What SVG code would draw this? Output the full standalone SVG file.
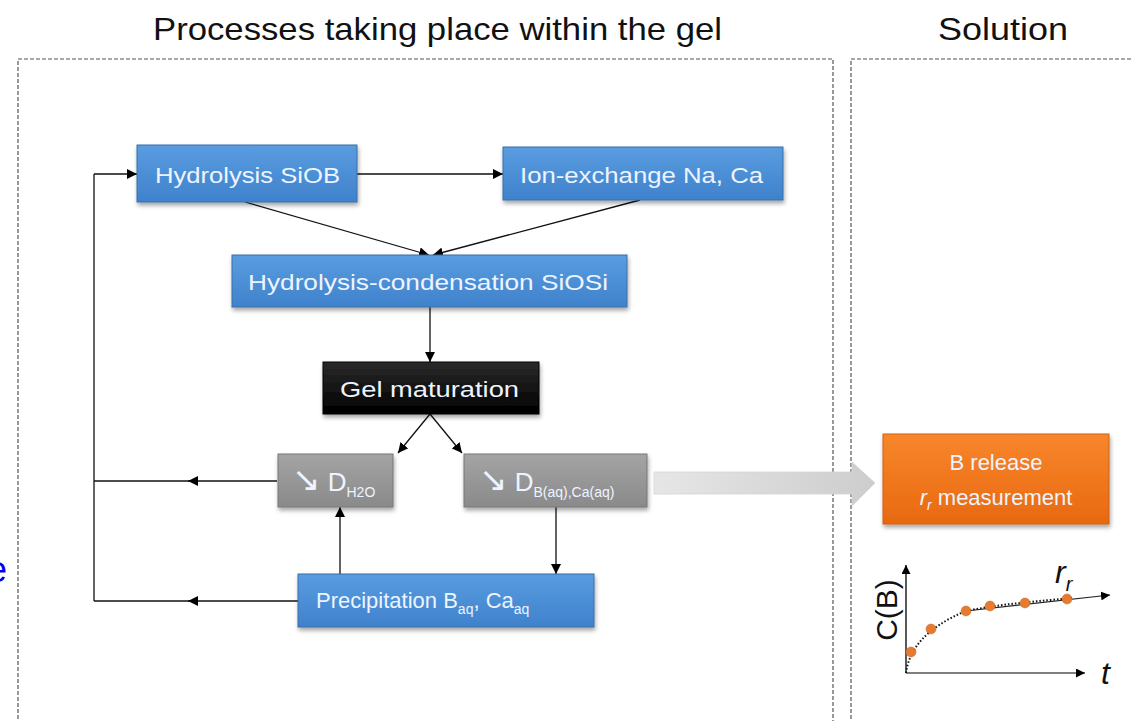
<svg xmlns="http://www.w3.org/2000/svg" width="1133" height="721" viewBox="0 0 1133 721">
<defs>
<style>
.title{font-family:"Liberation Sans",Arial,sans-serif;font-size:32px;fill:#111;}
.lbl{font-family:"Liberation Sans",Arial,sans-serif;font-size:22px;fill:#eef4ff;}
.sub{font-size:14px;}
.arr{font-family:"DejaVu Sans",sans-serif;font-size:34px;}
.big{font-size:26px;}
.dash{fill:none;stroke:#555;stroke-width:1.2;stroke-dasharray:4,2;}
.conn{fill:none;stroke:#111;stroke-width:1.3;}
.blue{fill:url(#gBlue);stroke:#3a6fa8;stroke-width:1;filter:url(#sh);}
.gray{fill:url(#gGray);stroke:#777;stroke-width:1;filter:url(#sh);}
.black{fill:url(#gBlack);stroke:#000;stroke-width:1;filter:url(#sh);}
.orange{fill:url(#gOrange);stroke:#d06010;stroke-width:1;filter:url(#sh);}
</style>
<linearGradient id="gBlue" x1="0" y1="0" x2="0" y2="1">
<stop offset="0" stop-color="#5a9ce0"/><stop offset="1" stop-color="#3f82cc"/>
</linearGradient>
<linearGradient id="gGray" x1="0" y1="0" x2="0" y2="1">
<stop offset="0" stop-color="#a4a4a4"/><stop offset="1" stop-color="#8a8a8a"/>
</linearGradient>
<linearGradient id="gBlack" x1="0" y1="0" x2="0" y2="1">
<stop offset="0" stop-color="#2a2a2a"/><stop offset="1" stop-color="#000"/>
</linearGradient>
<linearGradient id="gOrange" x1="0" y1="0" x2="0" y2="1">
<stop offset="0" stop-color="#f8862c"/><stop offset="1" stop-color="#e8690f"/>
</linearGradient>
<linearGradient id="gArrow" x1="0" y1="0" x2="1" y2="0">
<stop offset="0" stop-color="#e6e6e6"/><stop offset="1" stop-color="#cdcdcd"/>
</linearGradient>
<filter id="sh" x="-10%" y="-20%" width="120%" height="150%">
<feDropShadow dx="1" dy="3" stdDeviation="2" flood-color="#000" flood-opacity="0.35"/>
</filter>
<marker id="ah" viewBox="0 0 10 10" refX="10" refY="5" markerWidth="10" markerHeight="10" markerUnits="userSpaceOnUse" orient="auto">
<path d="M0,0 L10,5 L0,10 Z" fill="#000"/>
</marker>
<marker id="ahs" viewBox="0 0 10 10" refX="10" refY="5" markerWidth="9" markerHeight="9" markerUnits="userSpaceOnUse" orient="auto">
<path d="M0,0 L10,5 L0,10 Z" fill="#000"/>
</marker>
</defs>

<rect width="1133" height="721" fill="#fff"/>

<!-- partial blue text at left edge, cut off as in the reference -->
<text x="-13" y="582" font-family="Liberation Sans,Arial,sans-serif" font-size="36" fill="#0000ee">e</text>

<!-- titles and panels -->
<text class="title" x="153" y="40" textLength="569" lengthAdjust="spacingAndGlyphs">Processes taking place within the gel</text>
<text class="title" x="938" y="40" textLength="130" lengthAdjust="spacingAndGlyphs">Solution</text>
<path class="dash" d="M18,725 L18,59 L833,59 L833,725"/>
<path class="dash" d="M851,725 L851,59 L1140,59"/>

<!-- connectors -->
<g id="connectors">
<path class="conn" d="M94,174 L94,601"/>
<path class="conn" d="M94,174 L137,174" marker-end="url(#ah)"/>
<path class="conn" d="M357,174 L503,174" marker-end="url(#ah)"/>
<path class="conn" d="M245,202 L429,255" marker-end="url(#ah)"/>
<path class="conn" d="M640,200 L433,255" marker-end="url(#ah)"/>
<path class="conn" d="M430,307 L430,362" marker-end="url(#ah)"/>
<path class="conn" d="M430,414 L398,453" marker-end="url(#ah)"/>
<path class="conn" d="M430,414 L462,453" marker-end="url(#ah)"/>
<path class="conn" d="M277,481 L188,481" marker-end="url(#ah)"/>
<path class="conn" d="M190,481 L94,481"/>
<path class="conn" d="M298,601 L188,601" marker-end="url(#ah)"/>
<path class="conn" d="M190,601 L94,601"/>
<path class="conn" d="M556,507 L556,574" marker-end="url(#ah)"/>
<path class="conn" d="M340,574 L340,507" marker-end="url(#ah)"/>
<path d="M654,472 L852,472 L852,462 L875,483 L852,506 L852,494 L654,494 Z" fill="url(#gArrow)" stroke="#d4d4d4" stroke-width="0.8"/>
</g>

<!-- nodes -->
<g id="n-hydrolysis-siob">
<rect class="blue" x="137" y="145" width="220" height="57"/>
<text class="lbl" x="155" y="183" textLength="185" lengthAdjust="spacingAndGlyphs">Hydrolysis SiOB</text>
</g>
<g id="n-ion-exchange">
<rect class="blue" x="503" y="147" width="280" height="53"/>
<text class="lbl" x="520" y="183" textLength="243" lengthAdjust="spacingAndGlyphs">Ion-exchange Na, Ca</text>
</g>
<g id="n-hydrolysis-condensation">
<rect class="blue" x="232" y="255" width="395" height="52"/>
<text class="lbl" x="248" y="290" textLength="360" lengthAdjust="spacingAndGlyphs">Hydrolysis-condensation SiOSi</text>
</g>
<g id="n-gel-maturation">
<rect class="black" x="323" y="362" width="216" height="52"/>
<text class="lbl" x="340" y="397" textLength="179" lengthAdjust="spacingAndGlyphs" fill="#f0f0f0">Gel maturation</text>
</g>
<g id="n-dh2o">
<rect class="gray" x="278" y="454" width="115" height="53"/>
<text class="lbl" x="292" y="491" fill="#eeeeee"><tspan class="arr">↘</tspan><tspan class="big"> D</tspan><tspan class="sub" dy="6">H2O</tspan></text>
</g>
<g id="n-db">
<rect class="gray" x="464" y="454" width="183" height="53"/>
<text class="lbl" x="479" y="491" fill="#eeeeee"><tspan class="arr">↘</tspan><tspan class="big"> D</tspan><tspan class="sub" dy="6">B(aq),Ca(aq)</tspan></text>
</g>
<g id="n-precipitation">
<rect class="blue" x="298" y="574" width="296" height="53"/>
<text class="lbl" x="316" y="608">Precipitation B<tspan class="sub" dy="6">aq</tspan><tspan dy="-6">, Ca</tspan><tspan class="sub" dy="6">aq</tspan></text>
</g>
<g id="n-b-release">
<rect class="orange" x="883" y="434" width="226" height="90"/>
<text class="lbl" x="996" y="470" text-anchor="middle" fill="#fde8d8">B release</text>
<text class="lbl" x="996" y="505" text-anchor="middle" fill="#fde8d8"><tspan font-style="italic">r</tspan><tspan class="sub" font-style="italic" dy="5">r</tspan><tspan dy="-5"> measurement</tspan></text>
</g>

<!-- chart -->
<g id="chart">
<path d="M906,673 L906,565" stroke="#222" stroke-width="1.5" fill="none" marker-end="url(#ahs)"/>
<path d="M906,673 L1085,673" stroke="#555" stroke-width="1.5" fill="none" marker-end="url(#ahs)"/>
<path d="M966,611 L1110,595" stroke="#222" stroke-width="1.2" fill="none" marker-end="url(#ahs)"/>
<path d="M906,673 C909,650 925,628 966,611 C1000,604 1040,601 1072,598" stroke="#111" stroke-width="2" stroke-dasharray="1.5,2" fill="none"/>
<g fill="#e67a30" stroke="#c96a28" stroke-width="0.5">
<circle cx="911" cy="652" r="5"/>
<circle cx="931" cy="629" r="5"/>
<circle cx="966" cy="611" r="5"/>
<circle cx="990" cy="606" r="5"/>
<circle cx="1025" cy="603" r="5"/>
<circle cx="1067" cy="599" r="5"/>
</g>
<text x="1101" y="684" font-family="Liberation Sans,Arial,sans-serif" font-size="32" font-style="italic" fill="#111">t</text>
<text x="1055" y="583" font-family="Liberation Sans,Arial,sans-serif" font-size="32" font-style="italic" fill="#111">r<tspan font-size="20" dy="8">r</tspan></text>
<text transform="translate(897,610) rotate(-90)" text-anchor="middle" font-family="Liberation Sans,Arial,sans-serif" font-size="30" fill="#111">C(B)</text>
</g>
</svg>
